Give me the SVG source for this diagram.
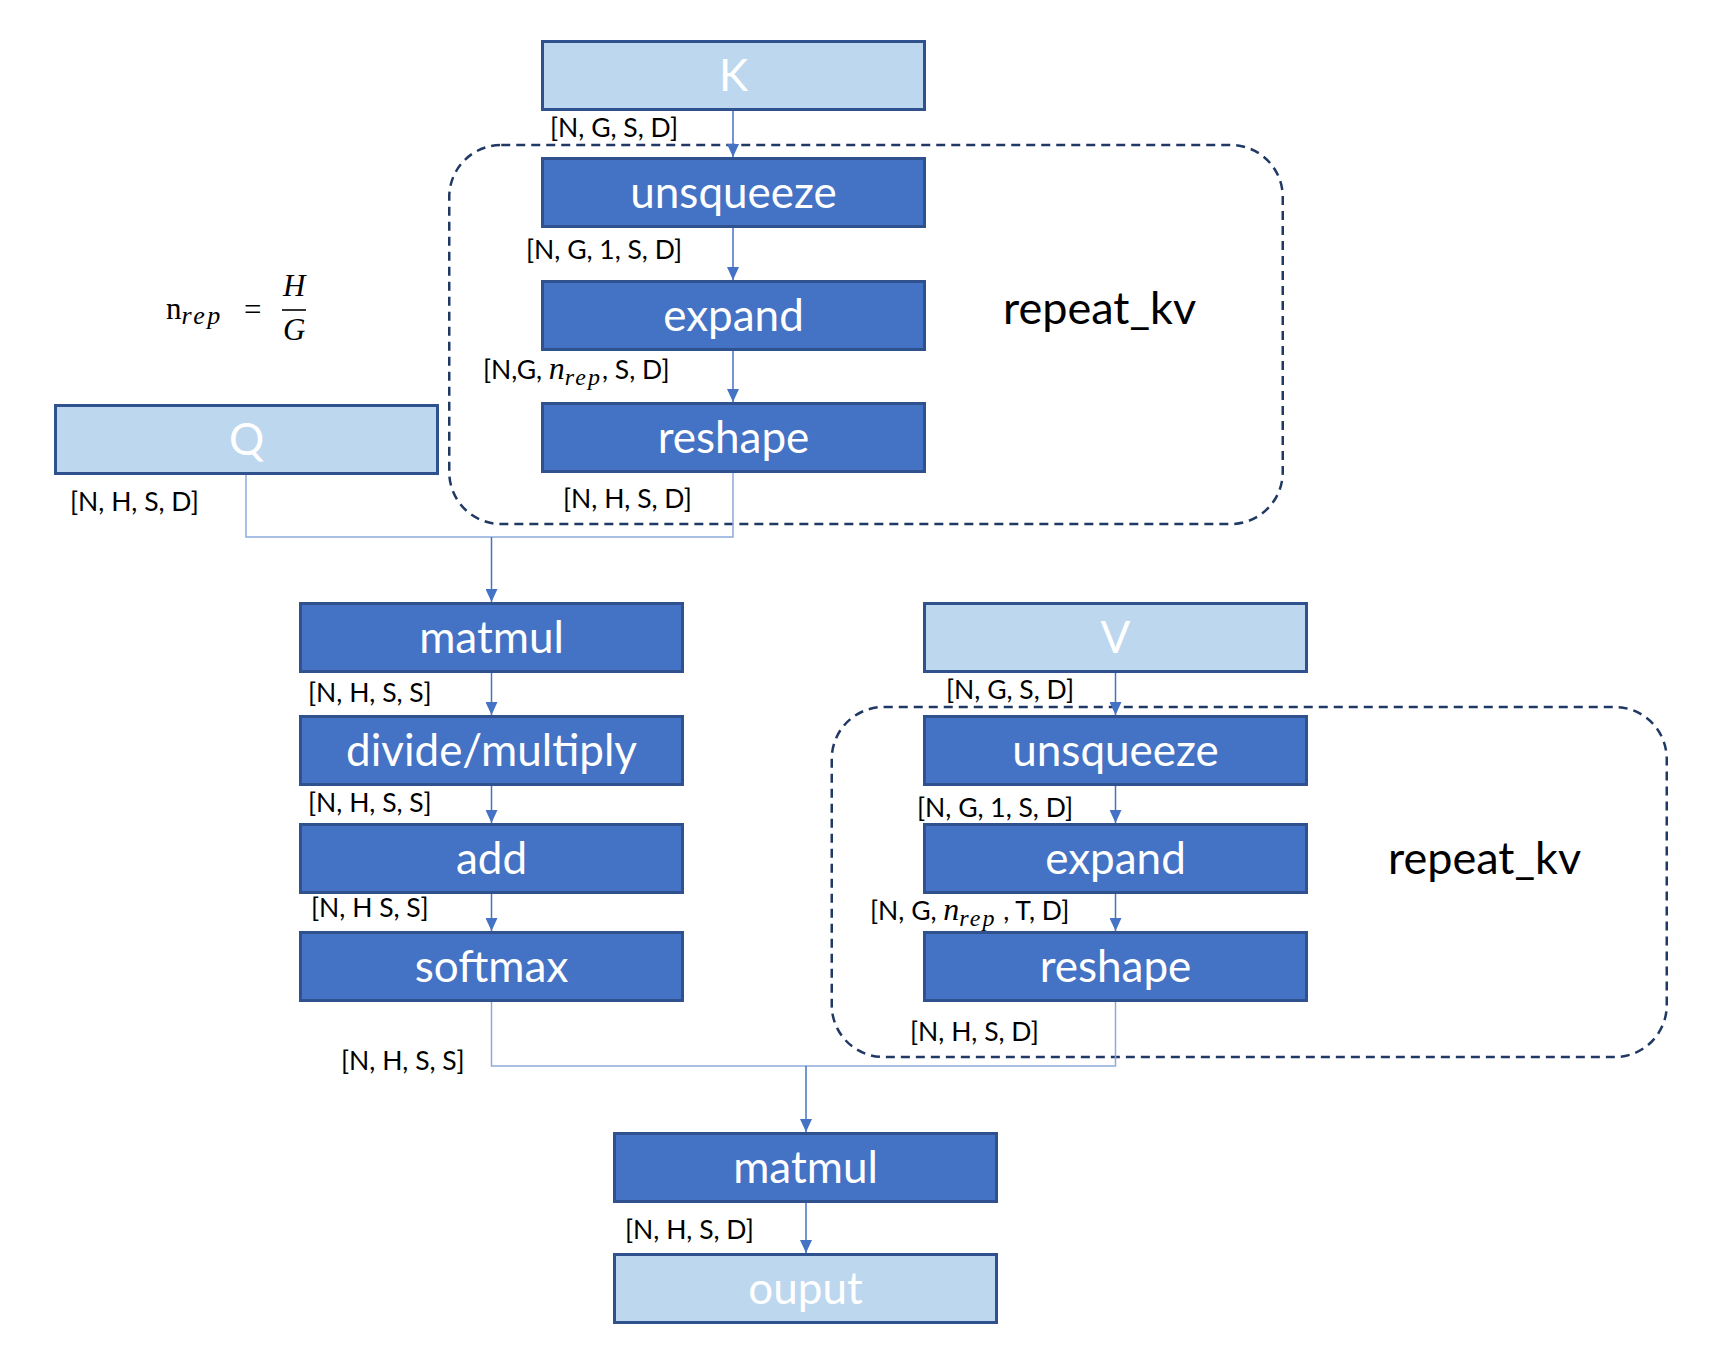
<svg xmlns="http://www.w3.org/2000/svg" width="1727" height="1352" viewBox="0 0 1727 1352">
<defs>
<style>
.dark{fill:#4472C4;stroke:#2F528F;stroke-width:3}
.light{fill:#BDD7EE;stroke:#2F528F;stroke-width:3}
.nt{font-family:Lato,"Open Sans",sans-serif;font-size:44px;fill:#FFFFFF;text-anchor:middle}
.lb{font-family:Lato,"Open Sans",sans-serif;font-size:26.5px;fill:#000000}
.rk{font-family:Lato,"Open Sans",sans-serif;font-size:45px;fill:#000000}
.math{font-family:"Liberation Serif","DejaVu Serif",serif;fill:#000000}
.grp{fill:none;stroke:#1F3864;stroke-width:2.5;stroke-dasharray:9 6}
.arr{fill:none;stroke:#4472C4;stroke-width:1.5}
.elb{fill:none;stroke:#8EAADB;stroke-width:1.5}
</style>
<marker id="ah" viewBox="0 0 13 12" refX="13" refY="6" markerWidth="13" markerHeight="12" markerUnits="userSpaceOnUse" orient="auto">
<path d="M0,0 L13,6 L0,12 z" fill="#4472C4"/>
</marker>
</defs>
<rect x="0" y="0" width="1727" height="1352" fill="#FFFFFF"/>

<g id="repeat_kv_group_1">
<rect class="grp" x="449.25" y="145" width="833.5" height="379" rx="52" ry="52"/>
<text class="rk" x="1003" y="324">repeat_kv</text>
</g>
<g id="repeat_kv_group_2">
<rect class="grp" x="831.75" y="707" width="835" height="350" rx="52" ry="52"/>
<text class="rk" x="1388" y="874">repeat_kv</text>
</g>

<g id="connectors">
<line class="arr" x1="733" y1="111" x2="733" y2="157" marker-end="url(#ah)"/>
<line class="arr" x1="733" y1="228" x2="733" y2="280" marker-end="url(#ah)"/>
<line class="arr" x1="733" y1="350" x2="733" y2="402" marker-end="url(#ah)"/>
<polyline class="elb" points="246,473 246,537 491.5,537"/>
<polyline class="elb" points="733,471 733,537 491.5,537"/>
<line class="arr" x1="491.5" y1="537" x2="491.5" y2="602" marker-end="url(#ah)"/>
<line class="arr" x1="491.5" y1="670" x2="491.5" y2="715" marker-end="url(#ah)"/>
<line class="arr" x1="491.5" y1="784" x2="491.5" y2="823" marker-end="url(#ah)"/>
<line class="arr" x1="491.5" y1="891" x2="491.5" y2="931" marker-end="url(#ah)"/>
<line class="arr" x1="1115.5" y1="670" x2="1115.5" y2="715" marker-end="url(#ah)"/>
<line class="arr" x1="1115.5" y1="784" x2="1115.5" y2="823" marker-end="url(#ah)"/>
<line class="arr" x1="1115.5" y1="891" x2="1115.5" y2="931" marker-end="url(#ah)"/>
<polyline class="elb" points="491.5,999 491.5,1066 806,1066"/>
<polyline class="elb" points="1115.5,999 1115.5,1066 806,1066"/>
<line class="arr" x1="806" y1="1066" x2="806" y2="1132" marker-end="url(#ah)"/>
<line class="arr" x1="806" y1="1201" x2="806" y2="1253" marker-end="url(#ah)"/>
</g>

<g id="node_K">
<rect class="light" x="542.5" y="41.5" width="382" height="68"/>
<text class="nt" x="733.5" y="91">K</text>
</g>
<g id="node_unsqueeze_1">
<rect class="dark" x="542.5" y="158.5" width="382" height="68"/>
<text class="nt" x="733.5" y="208">unsqueeze</text>
</g>
<g id="node_expand_1">
<rect class="dark" x="542.5" y="281.5" width="382" height="68"/>
<text class="nt" x="733.5" y="331">expand</text>
</g>
<g id="node_reshape_1">
<rect class="dark" x="542.5" y="403.5" width="382" height="68"/>
<text class="nt" x="733.5" y="453">reshape</text>
</g>
<g id="node_Q">
<rect class="light" x="55.5" y="405.5" width="382" height="68"/>
<text class="nt" x="246.5" y="455">Q</text>
</g>
<g id="node_matmul_1">
<rect class="dark" x="300.5" y="603.5" width="382" height="68"/>
<text class="nt" x="491.5" y="653">matmul</text>
</g>
<g id="node_divide_multiply">
<rect class="dark" x="300.5" y="716.5" width="382" height="68"/>
<text class="nt" x="491.5" y="766">divide/multiply</text>
</g>
<g id="node_add">
<rect class="dark" x="300.5" y="824.5" width="382" height="68"/>
<text class="nt" x="491.5" y="874">add</text>
</g>
<g id="node_softmax">
<rect class="dark" x="300.5" y="932.5" width="382" height="68"/>
<text class="nt" x="491.5" y="982">softmax</text>
</g>
<g id="node_V">
<rect class="light" x="924.5" y="603.5" width="382" height="68"/>
<text class="nt" x="1115.5" y="653">V</text>
</g>
<g id="node_unsqueeze_2">
<rect class="dark" x="924.5" y="716.5" width="382" height="68"/>
<text class="nt" x="1115.5" y="766">unsqueeze</text>
</g>
<g id="node_expand_2">
<rect class="dark" x="924.5" y="824.5" width="382" height="68"/>
<text class="nt" x="1115.5" y="874">expand</text>
</g>
<g id="node_reshape_2">
<rect class="dark" x="924.5" y="932.5" width="382" height="68"/>
<text class="nt" x="1115.5" y="982">reshape</text>
</g>
<g id="node_matmul_2">
<rect class="dark" x="614.5" y="1133.5" width="382" height="68"/>
<text class="nt" x="805.5" y="1183">matmul</text>
</g>
<g id="node_output">
<rect class="light" x="614.5" y="1254.5" width="382" height="68"/>
<text class="nt" x="805.5" y="1304">ouput</text>
</g>

<g id="labels">
<text class="lb" x="550" y="137">[N, G, S, D]</text>
<text class="lb" x="526" y="259">[N, G, 1, S, D]</text>
<text class="lb" x="483" y="379">[N,G, <tspan class="math" font-style="italic" font-size="32">n</tspan><tspan class="math" font-style="italic" font-size="24" letter-spacing="2" dy="6">rep</tspan><tspan dy="-6">, S, D]</tspan></text>
<text class="lb" x="70" y="511">[N, H, S, D]</text>
<text class="lb" x="563" y="508">[N, H, S, D]</text>
<text class="lb" x="308" y="702">[N, H, S, S]</text>
<text class="lb" x="308" y="812">[N, H, S, S]</text>
<text class="lb" x="311" y="917">[N, H S, S]</text>
<text class="lb" x="341" y="1070">[N, H, S, S]</text>
<text class="lb" x="946" y="699">[N, G, S, D]</text>
<text class="lb" x="917" y="817">[N, G, 1, S, D]</text>
<text class="lb" x="870" y="920">[N, G, <tspan class="math" font-style="italic" font-size="32">n</tspan><tspan class="math" font-style="italic" font-size="24" letter-spacing="2" dy="6">rep</tspan><tspan dy="-6"> , T, D]</tspan></text>
<text class="lb" x="910" y="1041">[N, H, S, D]</text>
<text class="lb" x="625" y="1239">[N, H, S, D]</text>
</g>

<g id="formula">
<text class="math" x="166" y="319" font-size="31">n<tspan font-style="italic" font-size="26" letter-spacing="2.5" dy="5">rep</tspan></text>
<text class="math" x="244" y="320" font-size="31">=</text>
<text class="math" x="283" y="296" font-size="31" font-style="italic">H</text>
<line x1="282" y1="310" x2="306" y2="310" stroke="#000000" stroke-width="1.6"/>
<text class="math" x="283" y="340" font-size="31" font-style="italic">G</text>
</g>
</svg>
